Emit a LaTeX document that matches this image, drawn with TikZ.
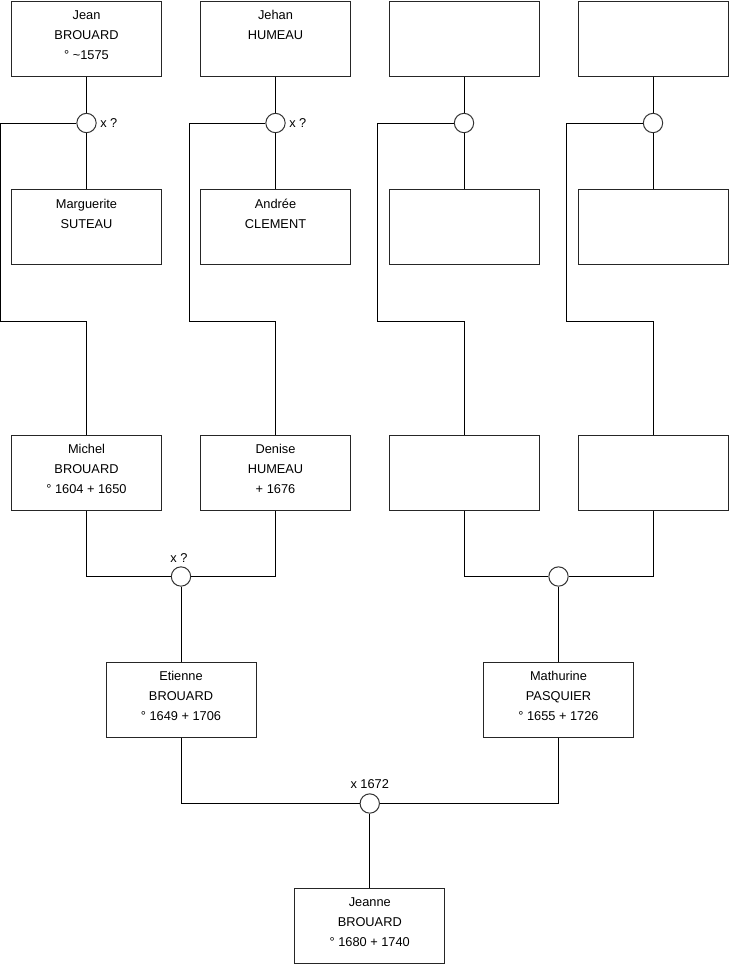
\documentclass[tikz,border=0pt]{standalone}
\usepackage{fontspec}
\setmainfont{Liberation Sans}
\usetikzlibrary{positioning}

\begin{document}
\begin{tikzpicture}[
  x=0.75pt, y=-0.75pt,
  font=\fontsize{9.6}{15}\selectfont,
  person/.style={rectangle, draw=black!85, line width=0.75pt, fill=white,
    minimum width=112.5pt, minimum height=56.25pt, inner sep=0pt},
  who/.style={anchor=north, align=center, inner xsep=0pt, inner ysep=7.25pt},
  union/.style={circle, draw=black!80, line width=0.75pt, fill=white,
    minimum size=14.5pt, inner sep=0pt},
  link/.style={draw=black, line width=0.75pt},
  note/.style={inner sep=0pt}
]
\useasboundingbox (0,0) rectangle (740,975);
% generation 1
\node[person, label={[who]north:Jean\\BROUARD\\° \textasciitilde1575}] (jean) at (86.5,38.5) {};
\node[person, label={[who]north:Jehan\\HUMEAU}] (jehan) at (275.5,38.5) {};
\node[person] (g1c) at (464,38.5) {};
\node[person] (g1d) at (653,38.5) {};
\node[union] (u1) at (86.5,123) {};
\node[union] (u2) at (275.5,123) {};
\node[union] (u3) at (464,123) {};
\node[union] (u4) at (653,123) {};
\node[note, right=2.5pt of u1] (x1) {x ?};
\node[note, right=2.5pt of u2] (x2) {x ?};
\node[person, label={[who]north:Marguerite\\SUTEAU}] (marguerite) at (86.5,227) {};
\node[person, label={[who]north:Andrée\\CLEMENT}] (andree) at (275.5,227) {};
\node[person] (g2c) at (464,227) {};
\node[person] (g2d) at (653,227) {};
% generation 2
\node[person, label={[who]north:Michel\\BROUARD\\° 1604 + 1650}] (michel) at (86.5,472.5) {};
\node[person, label={[who]north:Denise\\HUMEAU\\+ 1676}] (denise) at (275.5,472.5) {};
\node[person] (g3c) at (464,472.5) {};
\node[person] (g3d) at (653,472.5) {};
\node[union] (u5) at (181,576.5) {};
\node[union] (u6) at (558.5,576.5) {};
\node[note, above=3pt of u5, xshift=-1.5pt] (x5) {x ?};
% generation 3
\node[person, label={[who]north:Etienne\\BROUARD\\° 1649 + 1706}] (etienne) at (181,699.5) {};
\node[person, label={[who]north:Mathurine\\PASQUIER\\° 1655 + 1726}] (mathurine) at (558.5,699.5) {};
\node[union] (u7) at (369.75,803.5) {};
\node[note, above=3pt of u7] (x7) {x 1672};
\node[person, label={[who]north:Jeanne\\BROUARD\\° 1680 + 1740}] (jeanne) at (369.75,926) {};

\foreach \a/\u/\b in {jean/u1/marguerite, jehan/u2/andree, g1c/u3/g2c, g1d/u4/g2d}
  \draw[link] (\a) -- (\u) -- (\b);
\foreach \u/\c in {u1/michel, u2/denise, u3/g3c, u4/g3d}
  \draw[link] (\u.west) -| ++(-76,198) -| (\c.north);
\foreach \a/\b/\u in {michel/denise/u5, g3c/g3d/u6, etienne/mathurine/u7}
  \draw[link] (\a.south) |- (\u) -| (\b.south);
\draw[link] (u5) -- (etienne);
\draw[link] (u6) -- (mathurine);
\draw[link] (u7) -- (jeanne);
\end{tikzpicture}
\end{document}
